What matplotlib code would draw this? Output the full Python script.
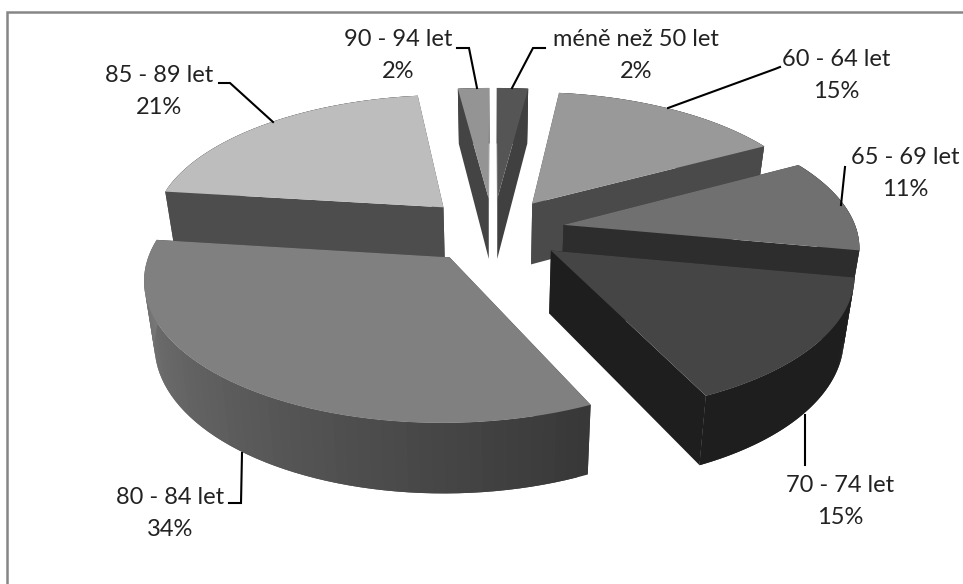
import numpy as np
import matplotlib
matplotlib.use("Agg")
import matplotlib.pyplot as plt

plt.rcParams['font.family'] = ['Lato', 'DejaVu Sans']

# data, clockwise from the top of the pie
labels = ['méně než 50 let', '60 - 64 let', '65 - 69 let', '70 - 74 let',
          '80 - 84 let', '85 - 89 let', '90 - 94 let']
values = [2, 15, 11, 15, 34, 21, 2]

# greys per slice
top_colors = ['#555555', '#999999', '#707070', '#454545', '#808080', '#bdbdbd', '#949494']
side_colors = ['#404040', '#4a4a4a', '#2d2d2d', '#1e1e1e', '#383838', '#4d4d4d', '#444444']
wall_right = ['#404040', '#4a4a4a', '#2d2d2d', '#1e1e1e', '#383838', '#4d4d4d', '#444444']
wall_left = ['#404040', '#4a4a4a', '#2d2d2d', '#1e1e1e', '#7c7c7c', '#4d4d4d', '#444444']
draw_order = [6, 0, 1, 5, 2, 3, 4]

# label text centre and leader line, in pixels
text_xy = [(636, 39), (836, 60), (905, 157), (840, 485), (170, 497), (159, 76), (398, 40)]
leaders = [[(545, 48), (533, 48), (512, 88)],
           [(780, 67), (775, 69), (668, 108)],
           [(845, 167), (841, 205)],
           [(805, 415), (805, 465)],
           [(242, 453), (241, 503), (229, 503)],
           [(219, 83), (230, 83), (273, 122)],
           [(457, 48), (469, 48), (477, 88)]]

# fake 3d camera
cx, cy = 493, 230
rx, ry = 293, 134
persp = 0.14
explode = 0.245
depth = 62
bottom_shrink = 0.97


def project(px, py):
    s = 1 / (1 + persp * py)
    return cx + rx * px * s, cy - ry * py * s, s


def project_bottom(px, py):
    x, y, s = project(px, py)
    return cx + (x - cx) * bottom_shrink, y + depth * s ** 0.7


def grey(c):
    return np.array(matplotlib.colors.to_rgb(c))


fig = plt.figure(figsize=(9.63, 5.84), dpi=100)
ax = fig.add_axes([0, 0, 1, 1])
ax.set_xlim(0, 963)
ax.set_ylim(584, 0)
ax.axis('off')

ends = np.cumsum(values) / sum(values) * 2 * np.pi
starts = ends - np.array(values) / sum(values) * 2 * np.pi

for n, i in enumerate(draw_order):
    mid = (starts[i] + ends[i]) / 2
    ox, oy = explode * np.sin(mid), explode * np.cos(mid)
    th = np.linspace(starts[i], ends[i], 60)
    px, py = ox + np.sin(th), oy + np.cos(th)
    tx, ty, _ = project(px, py)
    bx, by = project_bottom(px, py)
    ax0, ay0, _ = project(ox, oy)
    bx0, by0 = project_bottom(ox, oy)
    z = n + 1

    # flat cut faces
    for k in (0, -1):
        ax.fill([ax0, tx[k], bx[k], bx0], [ay0, ty[k], by[k], by0],
                color=side_colors[i], lw=0, zorder=z)
    # curved outer wall, shaded along the arc; strips overlap so no seams show
    for k in range(len(th) - 1):
        f = k / (len(th) - 2)
        c = (1 - f) * grey(wall_right[i]) + f * grey(wall_left[i])
        m = min(k + 2, len(th) - 1)
        ax.fill([tx[k], tx[k + 1], tx[m], bx[m], bx[k + 1], bx[k]],
                [ty[k], ty[k + 1], ty[m], by[m], by[k + 1], by[k]],
                color=c, lw=0, zorder=z)
    ax.fill(np.r_[ax0, tx], np.r_[ay0, ty], color=top_colors[i], lw=0, zorder=z)

for i in range(len(labels)):
    x, y = text_xy[i]
    ax.text(x, y, labels[i], ha='center', va='center', fontsize=17, color='#222222', zorder=20)
    ax.text(x, y + 32, f'{values[i]}%', ha='center', va='center', fontsize=17, color='#222222', zorder=20)
    ax.plot([p[0] for p in leaders[i]], [p[1] for p in leaders[i]], color='black', lw=1.5,
            solid_joinstyle='miter', zorder=20)

# chart frame, only top and left are inside the picture
ax.plot([963, 7, 7], [12, 12, 584], color='#868686', lw=1.8, zorder=30, solid_joinstyle='miter')

fig.savefig('out.png', dpi=100)
